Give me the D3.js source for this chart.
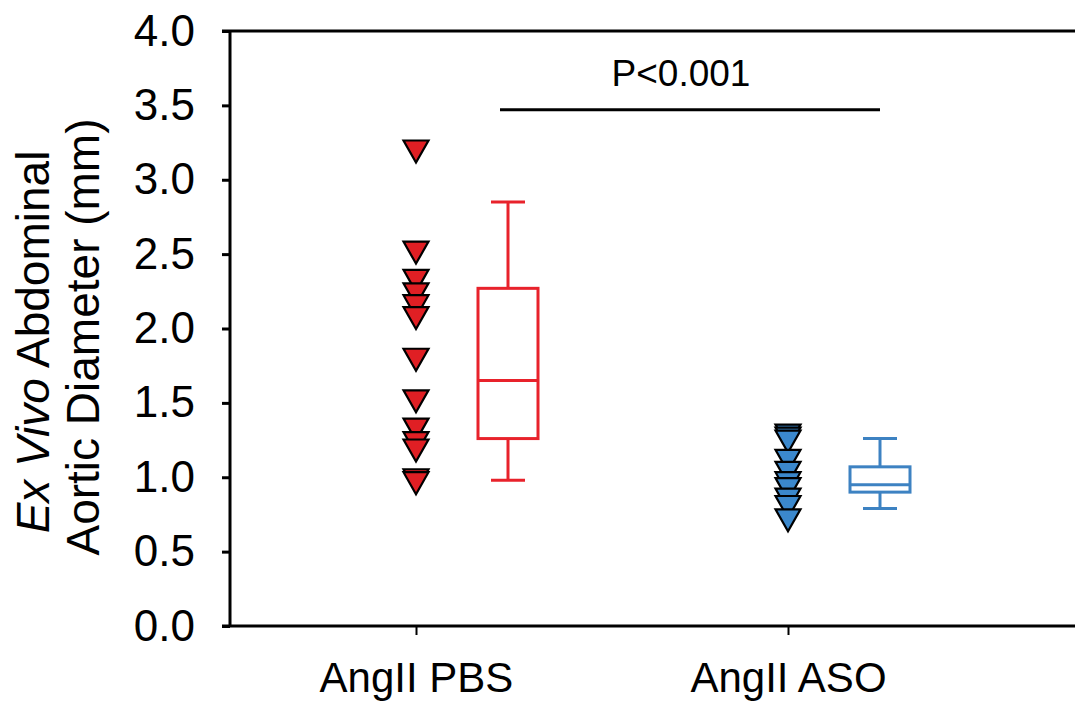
<!doctype html>
<html lang="en">
<head>
<meta charset="utf-8">
<title>Ex Vivo Abdominal Aortic Diameter</title>
<style>
    body {
        margin: 0;
        background: white;
        font-family: 'Liberation Sans', Arial, sans-serif;
    }
    svg text {
        fill: #000;
    }
</style>
</head>
<body>
<svg id="chart"></svg>
<script src="https://d3js.org/d3.v7.min.js"></script>
<script>

    // groups and raw points (mm)
    var groups = ["AngII PBS", "AngII ASO"];
    var pbsValues = [3.19, 2.51, 2.32, 2.23, 2.15, 2.07, 1.79, 1.51, 1.32, 1.23, 1.18, 0.98, 0.96];
    var asoValues = [1.28, 1.26, 1.24, 1.11, 1.03, 0.96, 0.92, 0.85, 0.80, 0.71];

    // box summaries: whisker low, q1, median, q3, whisker high
    var pbsBox = [0.98, 1.26, 1.65, 2.27, 2.85];
    var asoBox = [0.79, 0.90, 0.95, 1.07, 1.26];

    var yTicks = [0, 0.5, 1, 1.5, 2, 2.5, 3, 3.5, 4];
    var pLabel = "P<0.001";
    var pLevel = 3.47;

    var series = [
        { group: groups[0], values: pbsValues, box: pbsBox, fill: "#e01f24", line: "#e8222b" },
        { group: groups[1], values: asoValues, box: asoBox, fill: "#3b88cc", line: "#3d82c2" }
    ];

    var width = 1075, height = 704;
    var margin = { top: 31, right: -10, bottom: 78, left: 230 };

    var svg = d3.select("#chart")
        .attr("width", width)
        .attr("height", height);

    var y = d3.scaleLinear()
        .domain([0, 4])
        .range([height - margin.bottom, margin.top]);

    var x = d3.scalePoint()
        .domain(groups)
        .range([416, 788]);

    var boxOffset = 92, boxW = 60, capW = 34;

    // frame top line
    svg.append("line")
        .attr("x1", margin.left - 8).attr("x2", width + 10)
        .attr("y1", y(4)).attr("y2", y(4))
        .attr("stroke", "#000").attr("stroke-width", 3);

    // y axis
    var yAxis = svg.append("g")
        .attr("transform", "translate(" + margin.left + ",0)")
        .call(d3.axisLeft(y).tickValues(yTicks).tickFormat(d3.format(".1f")).tickSize(8).tickPadding(27));
    yAxis.select(".domain").attr("stroke-width", 3).attr("d", "M0," + y(4) + "V" + y(0));
    yAxis.selectAll(".tick line").attr("stroke-width", 3);
    yAxis.selectAll("text")
        .style("font-family", "'Liberation Sans', Arial, sans-serif")
        .style("font-size", "44px");

    // x axis
    var xAxis = svg.append("g")
        .attr("transform", "translate(0," + y(0) + ")")
        .call(d3.axisBottom(x).tickSize(9).tickPadding(27));
    xAxis.select(".domain").attr("stroke-width", 3).attr("d", "M" + (margin.left - 8) + ",0H" + (width + 10));
    xAxis.selectAll(".tick line").attr("stroke-width", 2);
    xAxis.selectAll("text")
        .style("font-family", "'Liberation Sans', Arial, sans-serif")
        .style("font-size", "42px");

    // y label, two lines
    var ylab = svg.append("text")
        .attr("transform", "translate(49,342) rotate(-90)")
        .attr("text-anchor", "middle")
        .style("font-size", "46px");
    ylab.append("tspan").style("font-style", "italic").text("Ex Vivo");
    ylab.append("tspan").text(" Abdominal");

    svg.append("text")
        .attr("transform", "translate(99,337) rotate(-90)")
        .attr("text-anchor", "middle")
        .style("font-size", "46px")
        .text("Aortic Diameter (mm)");

    // downward triangle centred on its bounding box
    function triangle(cx, cy) {
        var w = 12.5, h = 11;
        return "M" + (cx - w) + "," + (cy - h) + "L" + (cx + w) + "," + (cy - h) + "L" + cx + "," + (cy + h) + "Z";
    }

    series.forEach(function (s) {
        var cx = x(s.group);
        svg.append("g").selectAll("path")
            .data(s.values)
            .join("path")
            .attr("d", function (d) { return triangle(cx, y(d)); })
            .attr("fill", s.fill)
            .attr("stroke", "#000")
            .attr("stroke-width", 2.2)
            .attr("stroke-linejoin", "miter");

        var bx = cx + boxOffset;
        var b = s.box;
        var g = svg.append("g")
            .attr("stroke", s.line)
            .attr("stroke-width", 3)
            .attr("fill", "none");
        g.append("line").attr("x1", bx).attr("x2", bx).attr("y1", y(b[0])).attr("y2", y(b[1]));
        g.append("line").attr("x1", bx).attr("x2", bx).attr("y1", y(b[3])).attr("y2", y(b[4]));
        g.append("line").attr("x1", bx - capW / 2).attr("x2", bx + capW / 2).attr("y1", y(b[0])).attr("y2", y(b[0]));
        g.append("line").attr("x1", bx - capW / 2).attr("x2", bx + capW / 2).attr("y1", y(b[4])).attr("y2", y(b[4]));
        g.append("rect")
            .attr("x", bx - boxW / 2).attr("width", boxW)
            .attr("y", y(b[3])).attr("height", y(b[1]) - y(b[3]));
        g.append("line").attr("x1", bx - boxW / 2).attr("x2", bx + boxW / 2).attr("y1", y(b[2])).attr("y2", y(b[2]));
    });

    // significance bar
    var x1 = x(groups[0]) + 84, x2 = x(groups[1]) + 92;
    svg.append("line")
        .attr("x1", x1).attr("x2", x2)
        .attr("y1", y(pLevel)).attr("y2", y(pLevel))
        .attr("stroke", "#000").attr("stroke-width", 3);
    svg.append("text")
        .attr("x", (x1 + x2) / 2 - 9)
        .attr("y", y(pLevel) - 24)
        .attr("text-anchor", "middle")
        .style("font-size", "37px")
        .text(pLabel);

</script>
</body>
</html>
